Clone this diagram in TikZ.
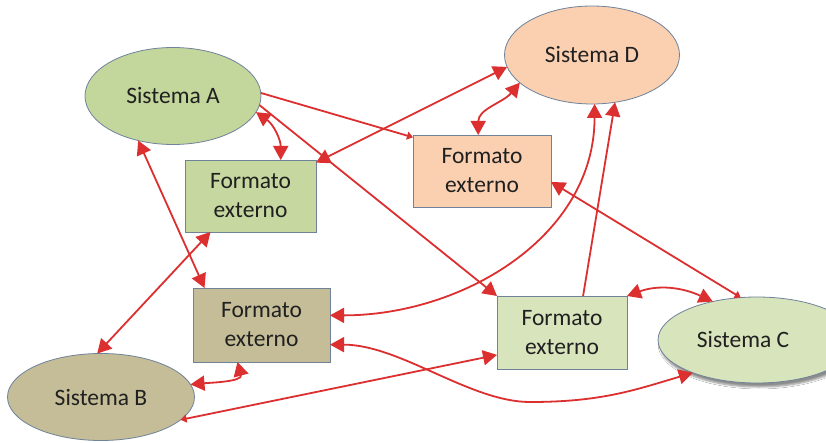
\documentclass[tikz,border=0pt]{standalone}
\usepackage{fontspec}
\setmainfont{Carlito}
\usetikzlibrary{shapes.geometric,arrows.meta,shadows.blur}
\definecolor{redc}{HTML}{DC2F30}
\definecolor{bordc}{HTML}{6F8299}
\definecolor{txtc}{HTML}{202020}
\definecolor{greenA}{HTML}{C3D69B}
\definecolor{greenF}{HTML}{C6D8A0}
\definecolor{peach}{HTML}{FAD0B1}
\definecolor{tan}{HTML}{C4BD97}
\definecolor{lightg}{HTML}{D8E4BC}
\newcommand{\labfont}{\fontsize{23.5}{29}\selectfont}
\tikzset{
  BigT/.tip={Triangle[length=14pt,width=15pt]},
  SmT/.tip={Triangle[length=6pt,width=8pt]},
  sys/.style={ellipse,draw=bordc,line width=0.8pt,inner sep=0pt,outer sep=0pt,font=\labfont,text=txtc},
  fmt/.style={rectangle,draw=bordc,line width=0.8pt,inner sep=0pt,outer sep=0pt,align=center,font=\labfont,text=txtc},
  conn/.style={draw=redc,line width=1.8pt}
}
\begin{document}
\begin{tikzpicture}[x=1pt,y=1pt]
\useasboundingbox (0,0) rectangle (826,-443);
\clip (0,0) rectangle (826,-443);
\fill[white] (0,0) rectangle (826,-443);
% systems
\node[sys,fill=greenA,minimum width=176pt,minimum height=97pt] (A) at (173,-96) {Sistema A};
\node[sys,fill=peach,minimum width=175pt,minimum height=98pt] (D) at (592,-55) {Sistema D};
\node[sys,fill=tan,minimum width=187pt,minimum height=87pt] (B) at (101,-397) {Sistema B};
\node[sys,fill=lightg,minimum width=198pt,minimum height=86pt,
  blur shadow={shadow xshift=2pt,shadow yshift=-4pt,shadow blur steps=6,shadow opacity=45},
  label={[xshift=-14pt,font=\labfont,text=txtc]center:Sistema C}] (C) at (757,-340) {};
% formats
\node[fmt,fill=greenF,minimum width=131pt,minimum height=72pt] (F1) at (250.5,-196) {Formato\\externo};
\node[fmt,fill=peach,minimum width=138pt,minimum height=72pt] (F2) at (482,-171) {Formato\\externo};
\node[fmt,fill=tan,minimum width=137pt,minimum height=74pt] (F3) at (261.5,-325) {Formato\\externo};
\node[fmt,fill=lightg,minimum width=130pt,minimum height=73pt] (F4) at (562,-332.5) {Formato\\externo};
\coordinate (m3) at (530,-402);
% connectors
\draw[conn,-{SmT}] (A.2) -- (F2.154);
\draw[conn,{BigT}-{BigT}] (A.-11) to[out=-35,in=90] (F1.50);
\draw[conn,-{BigT}] (A.-6) -- (F4.north west);
\draw[conn,{BigT}-{BigT}] (A.-128) -- (F3.147);
\draw[conn,{BigT}-{BigT}] (F1.-138) -- (B.95);
\draw[conn,{BigT}-{BigT}] (F1.27) -- (D.188);
\draw[conn,{BigT}-{BigT}] (D.-159) to[out=-130,in=90] (F2.96);
\draw[conn,{BigT}-{BigT}] (F3.8) to[out=0,in=-90] (D.-87);
\draw[conn,-{BigT}] (F4.60) -- (D.-64);
\draw[conn,{SmT}-{BigT}] (C.111) -- (F2.-9);
\draw[conn,{BigT}-{BigT}] (F4.north east) to[out=20,in=155] (C.139);
\draw[conn,{BigT}-{BigT}] (B.8) to[out=5,in=-75] (F3.-123);
\draw[conn,{SmT}-{BigT}] (B.-16) -- (F4.-161);
\draw[conn,{BigT}-{BigT}] (F3.-16) .. controls +(70,0) and +(-60,0) .. (m3) .. controls +(70,0) and +(-60,-18) .. (C.-153);
\end{tikzpicture}
\end{document}
